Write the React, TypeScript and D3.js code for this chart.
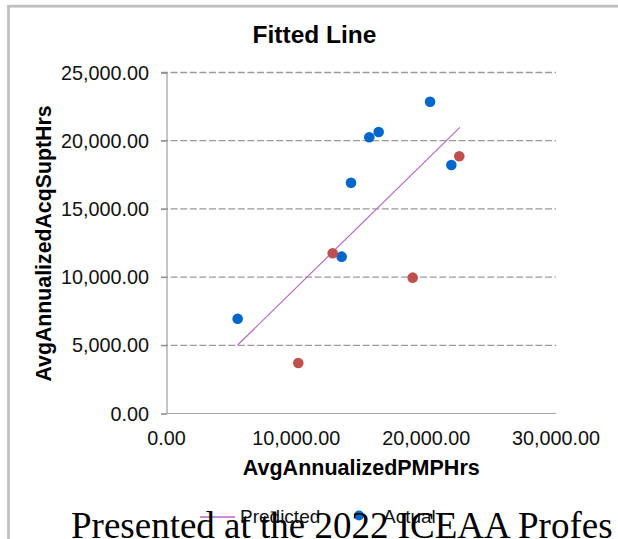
import React, { useEffect, useRef } from "react";
import * as d3 from "d3";

// values
const actualX = [5480, 13490, 14210, 15620, 16340, 20300, 21940];
const actualY = [6950, 11500, 16920, 20250, 20640, 22860, 18220];
const otherX = [10150, 12800, 18960, 22550];
const otherY = [3700, 11750, 9960, 18860];
const predX = [5480, 22600];
const predY = [5020, 20980];
const xTicks = [0, 10000, 20000, 30000];
const yTicks = [0, 5000, 10000, 15000, 20000, 25000];

function FittedLineChart() {
  const ref = useRef<SVGSVGElement>(null);

  useEffect(() => {
    const width = 618;
    const height = 539;
    const svg = d3.select(ref.current).attr("width", width).attr("height", height);
    svg.selectAll("*").remove();

    const x = d3.scaleLinear().domain([0, 30000]).range([166.5, 556]);
    const y = d3.scaleLinear().domain([0, 25000]).range([413.5, 72.5]);
    const fmt = d3.format(",.2f");
    const sans = "Liberation Sans, Arial, sans-serif";

    svg.append("rect").attr("width", width).attr("height", height).attr("fill", "#fff");
    // chart frame (cut by the page edge)
    svg
      .append("rect")
      .attr("x", 8.5)
      .attr("y", 6.2)
      .attr("width", 800)
      .attr("height", 800)
      .attr("fill", "#fff")
      .attr("stroke", "#c0c0c0")
      .attr("stroke-width", 2.8);

    svg
      .append("text")
      .attr("x", 314.5)
      .attr("y", 43)
      .attr("text-anchor", "middle")
      .attr("font-family", sans)
      .attr("font-weight", "bold")
      .attr("font-size", 24.5)
      .text("Fitted Line");

    // gridlines
    svg
      .append("g")
      .selectAll("line")
      .data(yTicks.filter(d => d > 0))
      .join("line")
      .attr("x1", 161)
      .attr("x2", x(30000))
      .attr("y1", d => y(d))
      .attr("y2", d => y(d))
      .attr("stroke", "#9a9a9a")
      .attr("stroke-width", 1.3)
      .attr("stroke-dasharray", "7,2.6");

    // axes
    const yAxis = d3.axisLeft(y).tickValues(yTicks).tickSize(5.5).tickFormat(() => "");
    svg
      .append("g")
      .attr("transform", `translate(${x(0)},0)`)
      .call(yAxis)
      .call(g => g.select(".domain").attr("stroke", "#8c8c8c"))
      .call(g => g.selectAll(".tick line").attr("stroke", "#8c8c8c"));
    svg
      .append("line")
      .attr("x1", 161)
      .attr("x2", x(30000))
      .attr("y1", y(0))
      .attr("y2", y(0))
      .attr("stroke", "#a6a6a6")
      .attr("stroke-width", 1.2);

    svg
      .append("g")
      .attr("font-family", sans)
      .attr("font-size", 19.8)
      .attr("fill", "#111")
      .attr("text-anchor", "end")
      .selectAll("text")
      .data(yTicks)
      .join("text")
      .attr("x", 149)
      .attr("y", d => y(d))
      .attr("dy", "0.36em")
      .text(d => fmt(d));

    svg
      .append("g")
      .attr("font-family", sans)
      .attr("font-size", 19.8)
      .attr("fill", "#111")
      .attr("text-anchor", "middle")
      .selectAll("text")
      .data(xTicks)
      .join("text")
      .attr("x", d => x(d))
      .attr("y", 444.5)
      .text(d => fmt(d));

    svg
      .append("text")
      .attr("x", (x(0) + x(30000)) / 2)
      .attr("y", 475)
      .attr("text-anchor", "middle")
      .attr("font-family", sans)
      .attr("font-weight", "bold")
      .attr("font-size", 21.5)
      .text("AvgAnnualizedPMPHrs");

    svg
      .append("text")
      .attr("transform", "translate(51,243.5) rotate(-90)")
      .attr("text-anchor", "middle")
      .attr("font-family", sans)
      .attr("font-weight", "bold")
      .attr("font-size", 21.3)
      .text("AvgAnnualizedAcqSuptHrs");

    // predicted line
    const line = d3
      .line<number>()
      .x((d, i) => x(predX[i]))
      .y(d => y(d));
    svg
      .append("path")
      .attr("d", line(predY))
      .attr("fill", "none")
      .attr("stroke", "#b868c8")
      .attr("stroke-width", 1.2);

    svg
      .append("g")
      .selectAll("circle")
      .data(actualX)
      .join("circle")
      .attr("cx", d => x(d))
      .attr("cy", (d, i) => y(actualY[i]))
      .attr("r", 5.3)
      .attr("fill", "#0066cc");

    svg
      .append("g")
      .selectAll("circle")
      .data(otherX)
      .join("circle")
      .attr("cx", d => x(d))
      .attr("cy", (d, i) => y(otherY[i]))
      .attr("r", 5.3)
      .attr("fill", "#c0504d");

    // legend
    const legend = svg.append("g").attr("font-family", sans).attr("font-size", 19).attr("fill", "#111");
    legend
      .append("line")
      .attr("x1", 200)
      .attr("x2", 235)
      .attr("y1", 517)
      .attr("y2", 517)
      .attr("stroke", "#b868c8")
      .attr("stroke-width", 1.5);
    legend.append("text").attr("x", 240).attr("y", 523).text("Predicted");
    legend.append("circle").attr("cx", 359).attr("cy", 515.5).attr("r", 5).attr("fill", "#0066cc");
    legend.append("text").attr("x", 383).attr("y", 523).text("Actual");

    // slide footer overlapping the chart
    svg
      .append("text")
      .attr("x", 71)
      .attr("y", 538)
      .attr("font-family", "Liberation Serif, Times New Roman, serif")
      .attr("font-size", 37)
      .attr("fill", "#000")
      .text("Presented at the 2022 ICEAA Profes");
  }, []);

  return <svg ref={ref} style={{ position: "absolute", left: 0, top: 0, display: "block" }}></svg>;
}

export default function App() {
  return <FittedLineChart />;
}
